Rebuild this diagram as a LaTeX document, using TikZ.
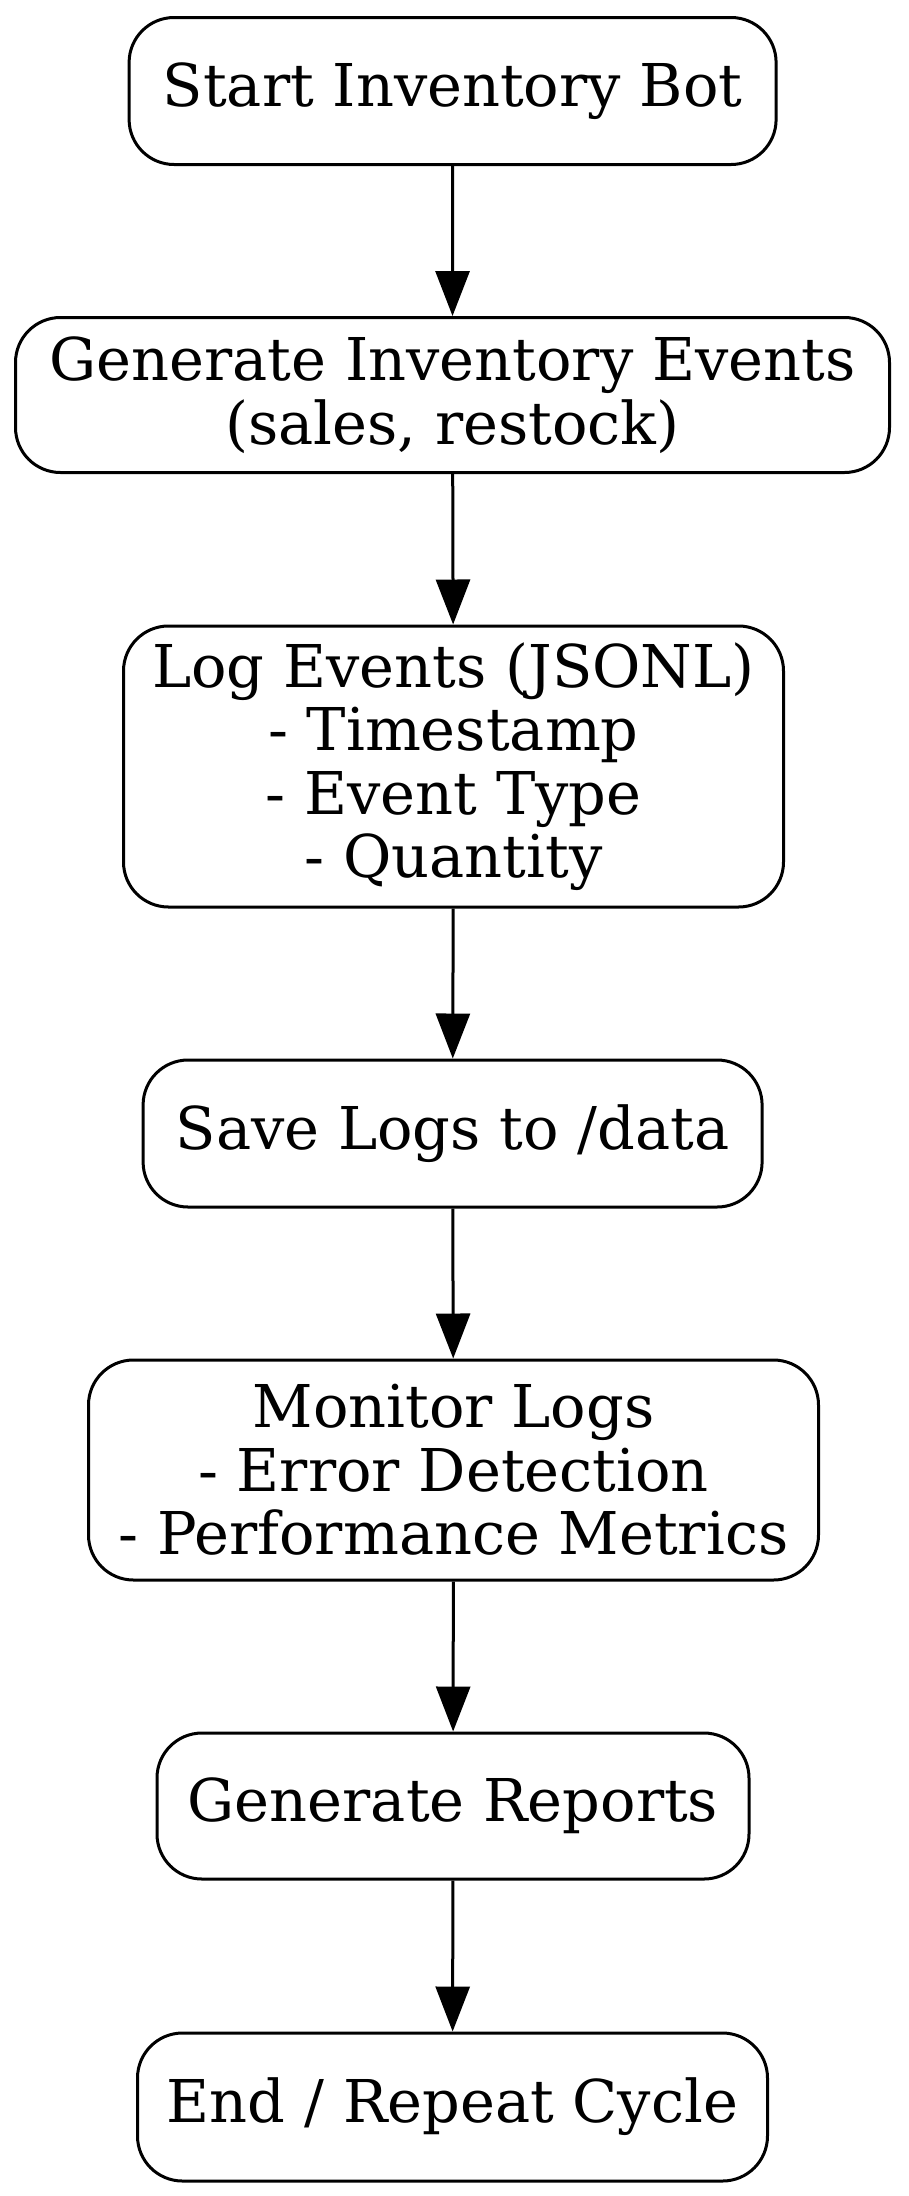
\documentclass[tikz,border=0pt]{standalone}
\usepackage{fontspec}
\setmainfont{DejaVu Serif}
\usetikzlibrary{arrows.meta}
\begin{document}
\begin{tikzpicture}[x=1pt,y=-1pt,
  box/.style={draw,line width=3pt,rounded corners=45pt,align=center,inner sep=0pt,
    font=\fontsize{59}{63.5}\selectfont},
  conn/.style={line width=3pt,-{Triangle[length=45pt,width=34pt]}}]
\useasboundingbox (0,0) rectangle (908,2196);
\node[box,minimum width=647pt,minimum height=147pt] (n1) at (452.6,91) {Start Inventory Bot};
\node[box,minimum width=874pt,minimum height=155pt] (n2) at (452.5,395) {Generate Inventory Events\\(sales, restock)};
\node[box,minimum width=660pt,minimum height=281pt] (n3) at (453.5,766.5) {Log Events (JSONL)\\- Timestamp\\- Event Type\\- Quantity};
\node[box,minimum width=619pt,minimum height=147pt] (n4) at (452.6,1133.5) {Save Logs to /data};
\node[box,minimum width=730pt,minimum height=220pt] (n5) at (453.5,1470) {Monitor Logs\\- Error Detection\\- Performance Metrics};
\node[box,minimum width=592pt,minimum height=146pt] (n6) at (453,1806) {Generate Reports};
\node[box,minimum width=630pt,minimum height=148pt] (n7) at (452.5,2107) {End / Repeat Cycle};
\draw[conn] (n1) -- (n2);
\draw[conn] (n2) -- (n3);
\draw[conn] (n3) -- (n4);
\draw[conn] (n4) -- (n5);
\draw[conn] (n5) -- (n6);
\draw[conn] (n6) -- (n7);
\end{tikzpicture}
\end{document}
